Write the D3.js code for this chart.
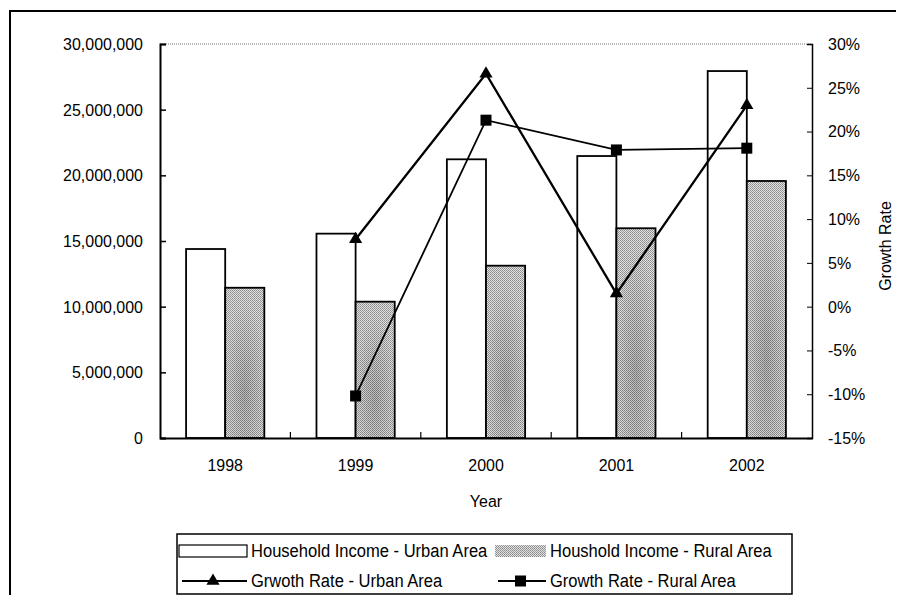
<!DOCTYPE html>
<html>
<head>
<meta charset="utf-8">
<script src="https://cdn.jsdelivr.net/npm/d3@7"></script>
<style>
  html, body { margin: 0; padding: 0; background: #fff; }
  svg { display: block; font-family: "Liberation Sans", Arial, sans-serif; }
</style>
</head>
<body>
<svg id="chart" width="904" height="595"></svg>
<script>
// Household income (left axis) and year-on-year growth (right axis, %)
const years = ["1998", "1999", "2000", "2001", "2002"];
const urbanIncome = [14390000, 15560000, 21220000, 21470000, 27940000];
const ruralIncome = [11440000, 10380000, 13120000, 15970000, 19570000];
const urbanGrowth = [null, 7.7, 26.6, 1.5, 23.0];
const ruralGrowth = [null, -10.2, 21.3, 17.9, 18.1];
const incomeTicks = [0, 5000000, 10000000, 15000000, 20000000, 25000000, 30000000];
const growthTicks = [-15, -10, -5, 0, 5, 10, 15, 20, 25, 30];

const legendItems = [
  { label: "Household Income - Urban Area", kind: "barUrban" },
  { label: "Houshold Income - Rural Area", kind: "barRural" },
  { label: "Grwoth Rate - Urban Area", kind: "lineUrban" },
  { label: "Growth Rate - Rural Area", kind: "lineRural" }
];

const svg = d3.select("#chart");
const plot = { left: 160, right: 812, top: 44, bottom: 438 };
const FONT = 17;
const SX = 0.94; // slightly condensed lettering

// apply condensed text: keep the anchor point where it was
function condense(sel, size = FONT) {
  sel.each(function () {
    const t = d3.select(this);
    const x0 = +t.attr("x") || 0;
    t.attr("x", x0 / SX).attr("transform", `scale(${SX},1)`)
      .attr("font-size", size).attr("font-family", null).attr("fill", "#000");
  });
}

// stippled grey fill for the rural bars
const defs = svg.append("defs");
const pat = defs.append("pattern")
  .attr("id", "stipple").attr("patternUnits", "userSpaceOnUse")
  .attr("width", 2).attr("height", 2);
pat.append("rect").attr("width", 2).attr("height", 2).attr("fill", "#e2e2e2");
pat.append("rect").attr("width", 1).attr("height", 1).attr("fill", "#8a8a8a");
pat.append("rect").attr("x", 1).attr("y", 1).attr("width", 1).attr("height", 1).attr("fill", "#9a9a9a");
const mottle = defs.append("radialGradient").attr("id", "mottle")
  .attr("cx", "0.5").attr("cy", "0.7").attr("r", "0.6");
mottle.append("stop").attr("offset", "0").attr("stop-color", "#000").attr("stop-opacity", 0.18);
mottle.append("stop").attr("offset", "1").attr("stop-color", "#000").attr("stop-opacity", 0);

// outer frame (top and left edges)
svg.append("line").attr("x1", 9).attr("x2", 896).attr("y1", 11).attr("y2", 11)
  .attr("stroke", "#000").attr("stroke-width", 2);
svg.append("line").attr("x1", 10).attr("x2", 10).attr("y1", 11).attr("y2", 595)
  .attr("stroke", "#000").attr("stroke-width", 2);

const x = d3.scaleBand().domain(years).range([plot.left, plot.right]).padding(0);
const y = d3.scaleLinear().domain([0, 30000000]).range([plot.bottom, plot.top]);
const y2 = d3.scaleLinear().domain([-15, 30]).range([plot.bottom, plot.top]);
const bw = x.bandwidth();

// dotted top edge of the plot area
svg.append("line").attr("x1", plot.left).attr("x2", plot.right)
  .attr("y1", plot.top).attr("y2", plot.top)
  .attr("stroke", "#777").attr("stroke-width", 1).attr("stroke-dasharray", "1,1");

// bars
const g = svg.append("g");
g.selectAll("rect.urban").data(years).join("rect").attr("class", "urban")
  .attr("x", d => x(d) + bw * 0.2)
  .attr("y", (d, i) => y(urbanIncome[i]))
  .attr("width", bw * 0.3)
  .attr("height", (d, i) => y(0) - y(urbanIncome[i]))
  .attr("fill", "#fff").attr("stroke", "#000").attr("stroke-width", 1.8);
g.selectAll("rect.rural").data(years).join("rect").attr("class", "rural")
  .attr("x", d => x(d) + bw * 0.5)
  .attr("y", (d, i) => y(ruralIncome[i]))
  .attr("width", bw * 0.3)
  .attr("height", (d, i) => y(0) - y(ruralIncome[i]))
  .attr("fill", "url(#stipple)").attr("stroke", "#000").attr("stroke-width", 1.8);
g.selectAll("rect.shade").data(years).join("rect").attr("class", "shade")
  .attr("x", d => x(d) + bw * 0.5 + 1)
  .attr("y", (d, i) => y(ruralIncome[i]) + 1)
  .attr("width", bw * 0.3 - 2)
  .attr("height", (d, i) => y(0) - y(ruralIncome[i]) - 2)
  .attr("fill", "url(#mottle)");

// left axis: ticks point into the plot
const axL = svg.append("g").attr("transform", `translate(${plot.left},0)`)
  .call(d3.axisLeft(y).tickValues(incomeTicks).tickSize(-6).tickPadding(17)
    .tickFormat(d3.format(",")));
axL.select(".domain").attr("stroke-width", 2);
axL.selectAll(".tick line").attr("stroke-width", 1.5);
condense(axL.selectAll("text"));

// right axis
const axR = svg.append("g").attr("transform", `translate(${plot.right},0)`)
  .call(d3.axisRight(y2).tickValues(growthTicks).tickSize(-5).tickPadding(16)
    .tickFormat(d => d + "%"));
axR.select(".domain").attr("stroke-width", 1.5);
condense(axR.selectAll("text"));

// bottom axis with ticks between categories
const axB = svg.append("g").attr("transform", `translate(0,${plot.bottom})`)
  .call(d3.axisBottom(x).tickSize(0).tickPadding(21));
axB.select(".domain").attr("stroke-width", 2);
condense(axB.selectAll("text"));
axB.selectAll("line.sep").data(years.slice(1)).join("line").attr("class", "sep")
  .attr("x1", d => x(d)).attr("x2", d => x(d)).attr("y1", 0).attr("y2", -6)
  .attr("stroke", "#000").attr("stroke-width", 1.2);

// axis titles
svg.append("text").attr("x", (plot.left + plot.right) / 2).attr("y", 507)
  .attr("text-anchor", "middle").text("Year").call(condense);
svg.append("g").attr("transform", "translate(891,246) rotate(-90)")
  .append("text").attr("text-anchor", "middle").text("Growth Rate").call(condense);

// growth lines
const cx = d => x(d) + bw / 2;
const urbanPts = years.map((d, i) => ({ d, v: urbanGrowth[i] })).filter(p => p.v !== null);
const ruralPts = years.map((d, i) => ({ d, v: ruralGrowth[i] })).filter(p => p.v !== null);
const line = d3.line().x(p => cx(p.d)).y(p => y2(p.v));
svg.append("path").attr("d", line(urbanPts)).attr("fill", "none")
  .attr("stroke", "#000").attr("stroke-width", 2.3);
svg.append("path").attr("d", line(ruralPts)).attr("fill", "none")
  .attr("stroke", "#000").attr("stroke-width", 1.8);
const tri = d3.symbol().type(d3.symbolTriangle).size(75);
svg.selectAll("path.tri").data(urbanPts).join("path").attr("class", "tri")
  .attr("d", tri).attr("transform", p => `translate(${cx(p.d)},${y2(p.v)})`).attr("fill", "#000");
svg.selectAll("rect.sq").data(ruralPts).join("rect").attr("class", "sq")
  .attr("x", p => cx(p.d) - 5.5).attr("y", p => y2(p.v) - 5.5)
  .attr("width", 11).attr("height", 11).attr("fill", "#000");

// legend
const lg = svg.append("g");
lg.append("rect").attr("x", 177).attr("y", 534).attr("width", 615).attr("height", 60)
  .attr("fill", "#fff").attr("stroke", "#000").attr("stroke-width", 1.5);
const cols = [179, 495];
const rows = [551, 581];
legendItems.forEach((it, i) => {
  const c = cols[i % 2], r = rows[Math.floor(i / 2)];
  const sw = i % 2 === 0 ? 68 : 51;
  if (it.kind === "barUrban") {
    lg.append("rect").attr("x", c).attr("y", r - 6).attr("width", sw).attr("height", 12)
      .attr("fill", "#fff").attr("stroke", "#000").attr("stroke-width", 1.2);
  } else if (it.kind === "barRural") {
    lg.append("rect").attr("x", c).attr("y", r - 6).attr("width", sw).attr("height", 12)
      .attr("fill", "url(#stipple)");
  } else {
    lg.append("line").attr("x1", c + 3).attr("x2", c + sw).attr("y1", r).attr("y2", r)
      .attr("stroke", "#000").attr("stroke-width", 2);
    const mx = c + sw / 2;
    if (it.kind === "lineUrban") {
      lg.append("path").attr("d", tri).attr("transform", `translate(${mx},${r})`).attr("fill", "#000");
    } else {
      lg.append("rect").attr("x", mx - 5.5).attr("y", r - 5.5).attr("width", 11).attr("height", 11).attr("fill", "#000");
    }
  }
  lg.append("text").attr("x", c + sw + 4).attr("y", r).attr("dy", "0.36em")
    .text(it.label).call(condense, 17.6);
});
</script>
</body>
</html>
